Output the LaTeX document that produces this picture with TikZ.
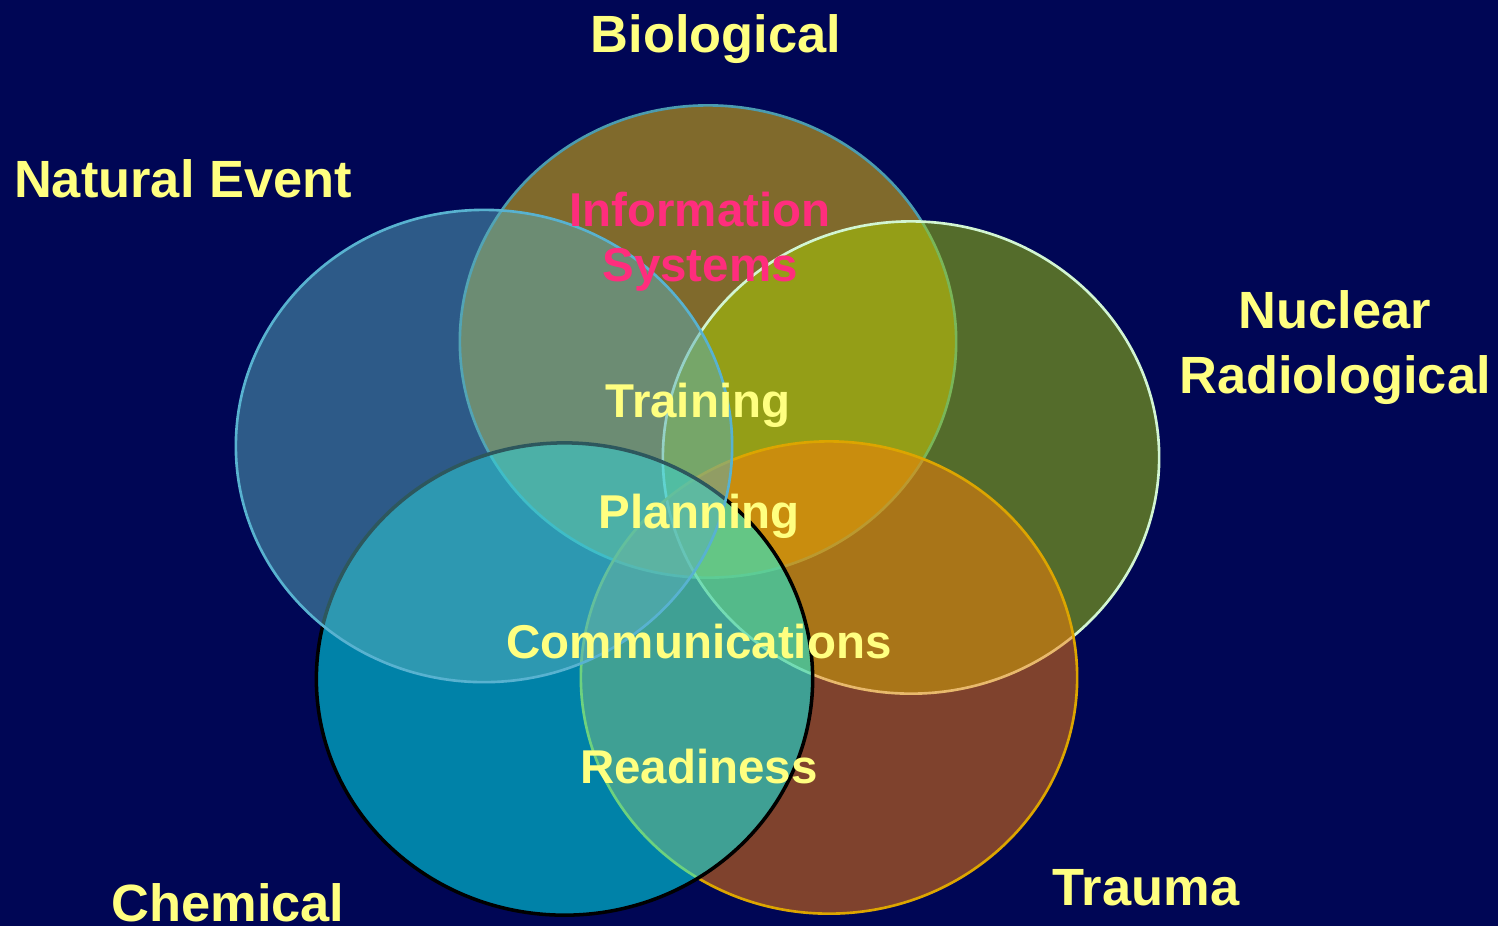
\documentclass[tikz,border=0pt]{standalone}
\usepackage{fontspec}
\setmainfont{Liberation Sans}
\usetikzlibrary{shapes.geometric}
\definecolor{bgnavy}{RGB}{0,6,85}
\definecolor{bioF}{RGB}{255,206,5}
\definecolor{bioL}{RGB}{75,155,175}
\definecolor{natF}{RGB}{90,174,187}
\definecolor{natL}{RGB}{88,178,208}
\definecolor{nucF}{RGB}{168,210,3}
\definecolor{nucL}{RGB}{210,245,210}
\definecolor{chemF}{RGB}{0,255,252}
\definecolor{chemL}{RGB}{0,0,0}
\definecolor{trauF}{RGB}{254,126,7}
\definecolor{trauL}{RGB}{220,165,0}
\definecolor{lbl}{RGB}{255,255,128}
\definecolor{pinklbl}{RGB}{255,45,125}
\tikzset{
  venn/.style={ellipse, inner sep=0pt, minimum width=4.96cm, minimum height=4.72cm,
    fill opacity=0.5, line width=0.75pt},
  outer/.style={text=lbl, font=\bfseries\fontsize{14.9}{18.5}\selectfont, inner sep=0pt},
  inner/.style={text=lbl, font=\bfseries\fontsize{13.5}{15.6}\selectfont, inner sep=0pt},
}
\begin{document}
\begin{tikzpicture}[x=0.01cm,y=-0.01cm]
\fill[bgnavy] (0,0) rectangle (1498,926);
\useasboundingbox (0,0) rectangle (1498,926);
% ellipses, in drawing order
\node[venn, fill=bioF, draw=bioL] (bio) at (708,341.5) {};
\node[venn, fill=nucF, draw=nucL] (nuc) at (911,457.5) {};
\node[venn, fill=trauF, draw=trauL] (trau) at (829,677.5) {};
\node[venn, fill=chemF, draw=chemL, line width=1pt] (chem) at (564.5,679) {};
\node[venn, fill=natF, draw=natL] (nat) at (484,446) {};
% outer labels
\node[outer, anchor=base] (lbio) at (716,52) {Biological};
\node[outer, anchor=base] (lnat) at (183,197) {Natural Event};
\node[outer, align=center] (lnuc) at (1335,347.5) {Nuclear\\Radiological};
\node[outer, anchor=base] (lchem) at (228,921) {Chemical};
\node[outer, anchor=base] (ltrau) at (1146,905) {Trauma};
% inner labels
\node[inner, align=center, text=pinklbl] (linfo) at (700,242) {Information\\Systems};
\node[inner, anchor=base] (ltrain) at (698,417) {Training};
\node[inner, anchor=base] (lplan) at (699,528) {Planning};
\node[inner, anchor=base] (lcomm) at (699,658) {Communications};
\node[inner, anchor=base] (lready) at (699,783) {Readiness};
\end{tikzpicture}
\end{document}
